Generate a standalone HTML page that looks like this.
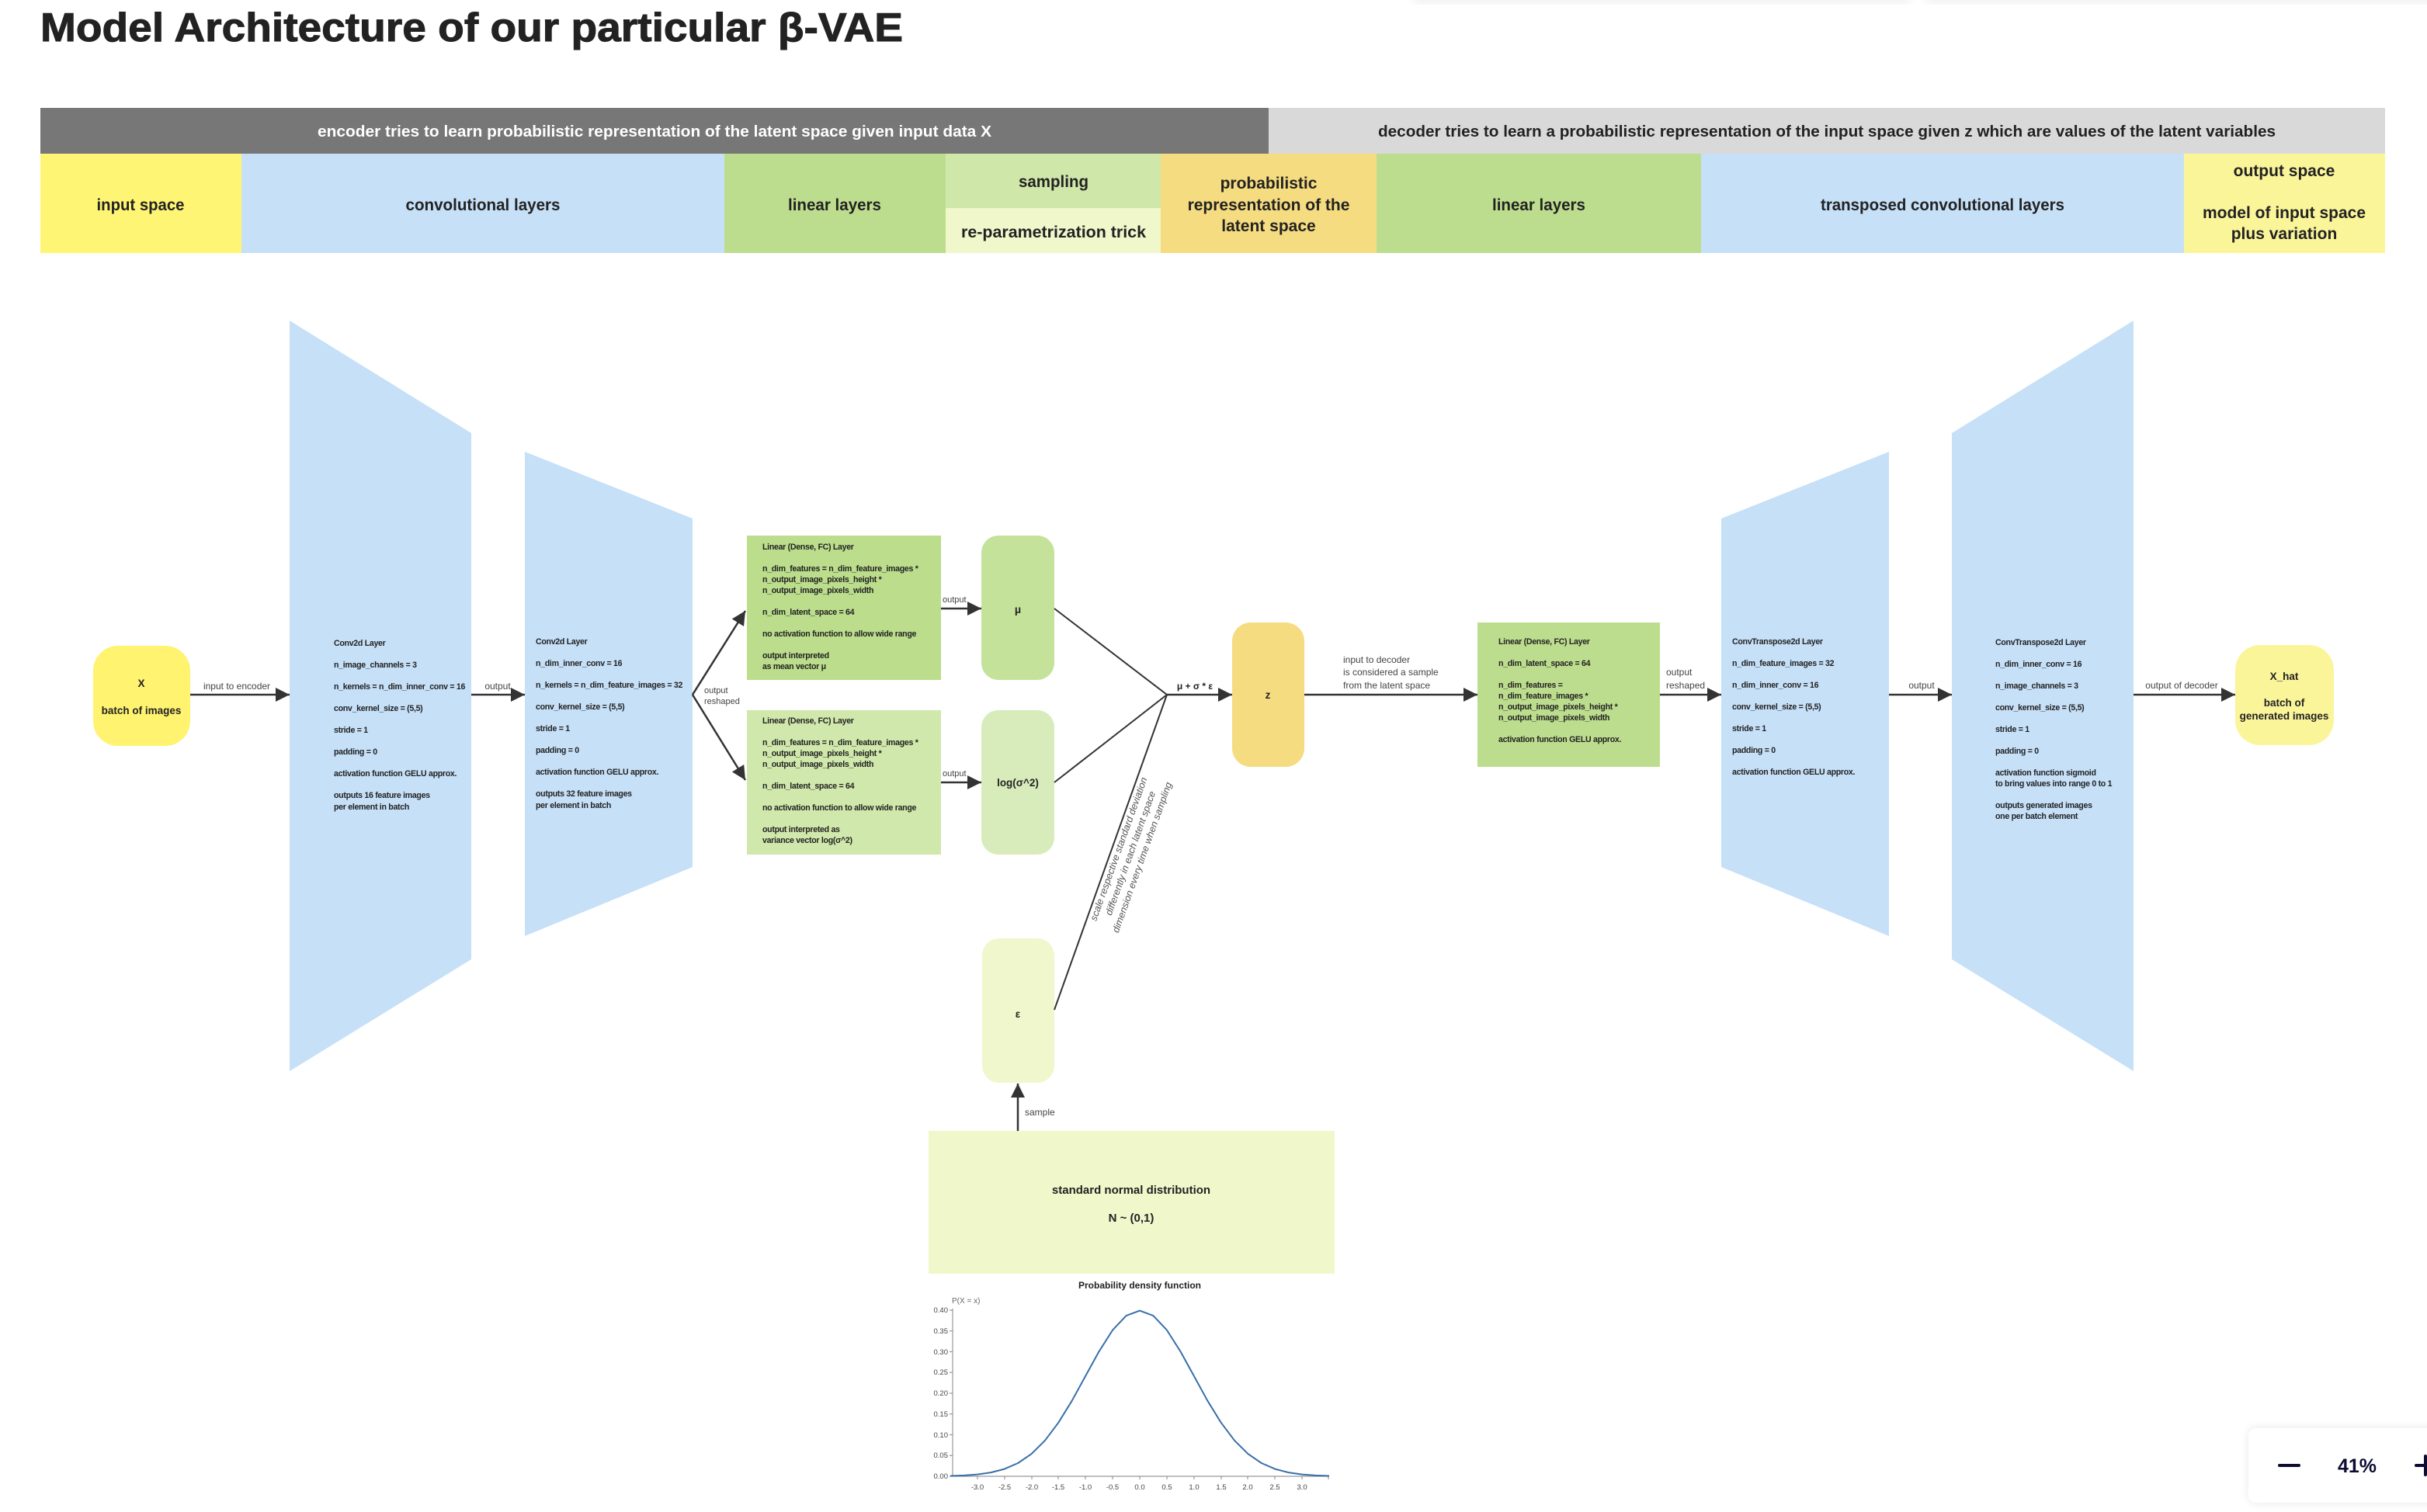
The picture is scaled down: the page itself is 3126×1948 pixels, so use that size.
<!DOCTYPE html>
<html><head><meta charset="utf-8"><style>
html,body{margin:0;padding:0;background:#fff;width:3126px;height:1948px;overflow:hidden}
svg{display:block}
text{font-family:"Liberation Sans",sans-serif}
.b{font-weight:bold;fill:#222}
.s{font-size:10.6px;font-weight:bold;fill:#222;letter-spacing:-0.3px}
.l{font-size:12px;fill:#444}
</style></head><body>
<svg width="3126" height="1948" viewBox="0 0 3126 1948" xmlns="http://www.w3.org/2000/svg">
<defs>
<marker id="ah" viewBox="0 0 10 10" refX="10" refY="5" markerWidth="18" markerHeight="18" orient="auto" markerUnits="userSpaceOnUse"><path d="M0,0 L10,5 L0,10 z" fill="#333"/></marker>
<filter id="sh" x="-20%" y="-20%" width="140%" height="140%"><feGaussianBlur stdDeviation="6"/></filter>
</defs>

<rect x="1820" y="-6" width="640" height="10" fill="#eee" filter="url(#sh)"/>
<rect x="2480" y="-6" width="660" height="10" fill="#eee" filter="url(#sh)"/>

<text x="52" y="53" class="b" font-size="52" stroke="#222" stroke-width="1" textLength="1111" lengthAdjust="spacingAndGlyphs">Model Architecture of our particular β-VAE</text>

<rect x="52" y="139" width="1582" height="59" fill="#777777"/>
<rect x="1634" y="139" width="1438" height="59" fill="#d9d9d9"/>
<text x="843" y="176" font-size="20" font-weight="bold" fill="#fff" text-anchor="middle" textLength="868" lengthAdjust="spacingAndGlyphs">encoder tries to learn probabilistic representation of the latent space given input data X</text>
<text x="2353" y="176" font-size="20" font-weight="bold" fill="#222" text-anchor="middle" textLength="1156" lengthAdjust="spacingAndGlyphs">decoder tries to learn a probabilistic representation of the input space given z which are values of the latent variables</text>

<rect x="52" y="198" width="259" height="128" fill="#fff574"/>
<rect x="311" y="198" width="622" height="128" fill="#c6e0f8"/>
<rect x="933" y="198" width="285" height="128" fill="#bddd8e"/>
<rect x="1218" y="198" width="277" height="70" fill="#cfe7a9"/>
<rect x="1218" y="268" width="277" height="58" fill="#f0f7cb"/>
<rect x="1495" y="198" width="278" height="128" fill="#f6dc80"/>
<rect x="1773" y="198" width="418" height="128" fill="#bddd8e"/>
<rect x="2191" y="198" width="622" height="128" fill="#c6e0f8"/>
<rect x="2813" y="198" width="259" height="128" fill="#fbf59a"/>

<g class="b" font-size="21" text-anchor="middle">
<text x="181" y="271" textLength="113" lengthAdjust="spacingAndGlyphs">input space</text>
<text x="622" y="271" textLength="199" lengthAdjust="spacingAndGlyphs">convolutional layers</text>
<text x="1075" y="271" textLength="120" lengthAdjust="spacingAndGlyphs">linear layers</text>
<text x="1357" y="241" textLength="90" lengthAdjust="spacingAndGlyphs">sampling</text>
<text x="1357" y="306" textLength="238" lengthAdjust="spacingAndGlyphs">re-parametrization trick</text>
<text x="1634" y="243">probabilistic</text>
<text x="1634" y="271">representation of the</text>
<text x="1634" y="298">latent space</text>
<text x="1982" y="271" textLength="120" lengthAdjust="spacingAndGlyphs">linear layers</text>
<text x="2502" y="271" textLength="314" lengthAdjust="spacingAndGlyphs">transposed convolutional layers</text>
<text x="2942" y="227">output space</text>
<text x="2942" y="281">model of input space</text>
<text x="2942" y="308">plus variation</text>
</g>

<rect x="120" y="832" width="125" height="129" rx="32" fill="#fff370"/>
<polygon points="373,413 607,558 607,1236 373,1380" fill="#c6e0f8"/>
<polygon points="676,582 892,668 892,1117 676,1206" fill="#c6e0f8"/>
<rect x="962" y="690" width="250" height="186" fill="#bbdd8c"/>
<rect x="962" y="915" width="250" height="186" fill="#d0e8ab"/>
<rect x="1264" y="690" width="94" height="186" rx="22" fill="#c4e29a"/>
<rect x="1264" y="915" width="94" height="186" rx="22" fill="#d8ecbb"/>
<rect x="1265" y="1209" width="93" height="186" rx="22" fill="#f0f7cc"/>
<rect x="1587" y="802" width="93" height="186" rx="24" fill="#f6dc80"/>
<rect x="1903" y="802" width="235" height="186" fill="#bddd8e"/>
<polygon points="2217,668 2433,582 2433,1206 2217,1117" fill="#c6e0f8"/>
<polygon points="2514,558 2748,413 2748,1380 2514,1236" fill="#c6e0f8"/>
<rect x="2879" y="831" width="127" height="129" rx="32" fill="#fbf59a"/>
<rect x="1196" y="1457" width="523" height="184" fill="#f0f7cb"/>

<g stroke="#333" stroke-width="2.5" fill="none">
<line x1="245" y1="895" x2="373" y2="895" marker-end="url(#ah)"/>
<line x1="607" y1="895" x2="676" y2="895" marker-end="url(#ah)"/>
<line x1="892" y1="895" x2="960" y2="787" marker-end="url(#ah)"/>
<line x1="892" y1="895" x2="960" y2="1005" marker-end="url(#ah)"/>
<line x1="1212" y1="784" x2="1264" y2="784" marker-end="url(#ah)"/>
<line x1="1212" y1="1008" x2="1264" y2="1008" marker-end="url(#ah)"/>
<line x1="1311" y1="1457" x2="1311" y2="1396" marker-end="url(#ah)"/>
<line x1="1503" y1="895" x2="1587" y2="895" marker-end="url(#ah)"/>
<line x1="1680" y1="895" x2="1903" y2="895" marker-end="url(#ah)"/>
<line x1="2138" y1="895" x2="2217" y2="895" marker-end="url(#ah)"/>
<line x1="2433" y1="895" x2="2514" y2="895" marker-end="url(#ah)"/>
<line x1="2748" y1="895" x2="2879" y2="895" marker-end="url(#ah)"/>
</g>
<g stroke="#333" stroke-width="2" fill="none">
<line x1="1358" y1="784" x2="1503" y2="895"/>
<line x1="1358" y1="1008" x2="1503" y2="895"/>
<line x1="1358" y1="1301" x2="1503" y2="895"/>
</g>

<g class="l">
<text x="305" y="888" text-anchor="middle">input to encoder</text>
<text x="641" y="888" text-anchor="middle">output</text>
<text x="907" y="893" font-size="11">output</text>
<text x="907" y="907" font-size="11">reshaped</text>
<text x="1214" y="776" font-size="11">output</text>
<text x="1214" y="1000" font-size="11">output</text>
<text x="1320" y="1437">sample</text>
<text x="1730" y="854">input to decoder</text>
<text x="1730" y="870">is considered a sample</text>
<text x="1730" y="887">from the latent space</text>
<text x="2146" y="870">output</text>
<text x="2146" y="887">reshaped</text>
<text x="2475" y="887" text-anchor="middle">output</text>
<text x="2810" y="887" text-anchor="middle">output of decoder</text>
</g>
<text x="1539" y="888" class="b" font-size="12" text-anchor="middle">μ + σ * ε</text>
<g transform="translate(1458,1100) rotate(-70.3)" font-size="12.5" fill="#555" font-style="italic" text-anchor="middle">
<text x="0" y="-14">scale respective standard deviation</text>
<text x="0" y="2">differently in each latent space</text>
<text x="0" y="18">dimension every time when sampling</text>
</g>

<g class="b" font-size="13.5" text-anchor="middle">
<text x="182" y="885">X</text>
<text x="182" y="920">batch of images</text>
<text x="1311" y="790">μ</text>
<text x="1311" y="1013">log(σ^2)</text>
<text x="1311" y="1311">ε</text>
<text x="1633" y="900">z</text>
<text x="2942" y="876">X_hat</text>
<text x="2942" y="910">batch of</text>
<text x="2942" y="927">generated images</text>
<text x="1457" y="1538" font-size="15">standard normal distribution</text>
<text x="1457" y="1574" font-size="15">N ~ (0,1)</text>
</g>

<g class="s">
<text x="430" y="832">Conv2d Layer</text>
<text x="430" y="860">n_image_channels = 3</text>
<text x="430" y="888">n_kernels = n_dim_inner_conv = 16</text>
<text x="430" y="916">conv_kernel_size = (5,5)</text>
<text x="430" y="944">stride = 1</text>
<text x="430" y="972">padding = 0</text>
<text x="430" y="1000">activation function GELU approx.</text>
<text x="430" y="1028">outputs 16 feature images</text>
<text x="430" y="1043">per element in batch</text>

<text x="690" y="830">Conv2d Layer</text>
<text x="690" y="858">n_dim_inner_conv = 16</text>
<text x="690" y="886">n_kernels = n_dim_feature_images = 32</text>
<text x="690" y="914">conv_kernel_size = (5,5)</text>
<text x="690" y="942">stride = 1</text>
<text x="690" y="970">padding = 0</text>
<text x="690" y="998">activation function GELU approx.</text>
<text x="690" y="1026">outputs 32 feature images</text>
<text x="690" y="1041">per element in batch</text>

<text x="982" y="708">Linear (Dense, FC) Layer</text>
<text x="982" y="736">n_dim_features = n_dim_feature_images *</text>
<text x="982" y="750">n_output_image_pixels_height *</text>
<text x="982" y="764">n_output_image_pixels_width</text>
<text x="982" y="792">n_dim_latent_space = 64</text>
<text x="982" y="820">no activation function to allow wide range</text>
<text x="982" y="848">output interpreted</text>
<text x="982" y="862">as mean vector μ</text>

<text x="982" y="932">Linear (Dense, FC) Layer</text>
<text x="982" y="960">n_dim_features = n_dim_feature_images *</text>
<text x="982" y="974">n_output_image_pixels_height *</text>
<text x="982" y="988">n_output_image_pixels_width</text>
<text x="982" y="1016">n_dim_latent_space = 64</text>
<text x="982" y="1044">no activation function to allow wide range</text>
<text x="982" y="1072">output interpreted as</text>
<text x="982" y="1086">variance vector log(σ^2)</text>

<text x="1930" y="830">Linear (Dense, FC) Layer</text>
<text x="1930" y="858">n_dim_latent_space = 64</text>
<text x="1930" y="886">n_dim_features =</text>
<text x="1930" y="900">n_dim_feature_images *</text>
<text x="1930" y="914">n_output_image_pixels_height *</text>
<text x="1930" y="928">n_output_image_pixels_width</text>
<text x="1930" y="956">activation function GELU approx.</text>

<text x="2231" y="830">ConvTranspose2d Layer</text>
<text x="2231" y="858">n_dim_feature_images = 32</text>
<text x="2231" y="886">n_dim_inner_conv = 16</text>
<text x="2231" y="914">conv_kernel_size = (5,5)</text>
<text x="2231" y="942">stride = 1</text>
<text x="2231" y="970">padding = 0</text>
<text x="2231" y="998">activation function GELU approx.</text>

<text x="2570" y="831">ConvTranspose2d Layer</text>
<text x="2570" y="859">n_dim_inner_conv = 16</text>
<text x="2570" y="887">n_image_channels = 3</text>
<text x="2570" y="915">conv_kernel_size = (5,5)</text>
<text x="2570" y="943">stride = 1</text>
<text x="2570" y="971">padding = 0</text>
<text x="2570" y="999">activation function sigmoid</text>
<text x="2570" y="1013">to bring values into range 0 to 1</text>
<text x="2570" y="1041">outputs generated images</text>
<text x="2570" y="1055">one per batch element</text>
</g>

<text x="1468" y="1660" font-size="12" font-weight="bold" fill="#222" text-anchor="middle">Probability density function</text>
<text x="1226" y="1679" font-size="10" fill="#666">P(X = x)</text>
<g stroke="#999" stroke-width="1.2" fill="none">
<line x1="1227" y1="1686" x2="1227" y2="1902"/>
<line x1="1227" y1="1902" x2="1711" y2="1902"/>
<path d="M1223,1688H1227M1223,1714.75H1227M1223,1741.5H1227M1223,1768.25H1227M1223,1795H1227M1223,1821.75H1227M1223,1848.5H1227M1223,1875.25H1227M1223,1902H1227"/>
<path d="M1259,1902V1906M1294,1902V1906M1329,1902V1906M1363,1902V1906M1398,1902V1906M1433,1902V1906M1468,1902V1906M1503,1902V1906M1538,1902V1906M1573,1902V1906M1607,1902V1906M1642,1902V1906M1677,1902V1906M1711,1902V1906"/>
</g>
<g font-size="9.5" fill="#444" text-anchor="end">
<text x="1221" y="1691">0.40</text><text x="1221" y="1718">0.35</text><text x="1221" y="1745">0.30</text><text x="1221" y="1771">0.25</text><text x="1221" y="1798">0.20</text><text x="1221" y="1825">0.15</text><text x="1221" y="1852">0.10</text><text x="1221" y="1878">0.05</text><text x="1221" y="1905">0.00</text>
</g>
<g font-size="9.5" fill="#444" text-anchor="middle">
<text x="1259" y="1919">-3.0</text><text x="1294" y="1919">-2.5</text><text x="1329" y="1919">-2.0</text><text x="1363" y="1919">-1.5</text><text x="1398" y="1919">-1.0</text><text x="1433" y="1919">-0.5</text><text x="1468" y="1919">0.0</text><text x="1503" y="1919">0.5</text><text x="1538" y="1919">1.0</text><text x="1573" y="1919">1.5</text><text x="1607" y="1919">2.0</text><text x="1642" y="1919">2.5</text><text x="1677" y="1919">3.0</text>
</g>
<polyline fill="none" stroke="#3a6fa8" stroke-width="2" stroke-linejoin="round" points="1224,1901.5 1241.5,1900.9 1258.9,1899.6 1276.3,1897.1 1293.7,1892.6 1311.2,1885 1328.6,1873.1 1346,1855.8 1363.4,1832.7 1380.9,1804.3 1398.3,1772.5 1415.7,1740.9 1433.1,1713.6 1450.6,1695.1 1468,1688.6 1485.4,1695.1 1502.9,1713.6 1520.3,1740.9 1537.7,1772.5 1555.1,1804.3 1572.6,1832.7 1590,1855.8 1607.4,1873.1 1624.8,1885 1642.3,1892.6 1659.7,1897.1 1677.1,1899.6 1694.5,1900.9 1712,1901.5"/>

<rect x="2896" y="1840" width="250" height="96" rx="10" fill="#e8e8ee" filter="url(#sh)"/>
<rect x="2896" y="1840" width="250" height="96" rx="10" fill="#fff"/>
<line x1="2936" y1="1888" x2="2961" y2="1888" stroke="#0c0c33" stroke-width="4" stroke-linecap="round"/>
<text x="3036" y="1897" font-size="25" font-weight="bold" fill="#0c0c33" text-anchor="middle">41%</text>
<line x1="3112" y1="1888" x2="3130" y2="1888" stroke="#0c0c33" stroke-width="4" stroke-linecap="round"/>
<line x1="3124" y1="1876" x2="3124" y2="1900" stroke="#0c0c33" stroke-width="4" stroke-linecap="round"/>
</svg>
</body></html>
